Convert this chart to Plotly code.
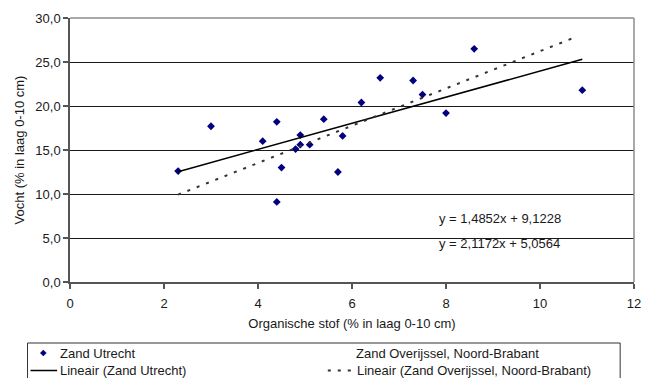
import plotly.graph_objects as go

# Soil samples: organic matter vs. moisture (0-10 cm layer)
organische_stof = [2.3, 3.0, 4.1, 4.4, 4.4, 4.5, 4.8, 4.9, 4.9, 5.1,
                   5.4, 5.7, 5.8, 6.2, 6.6, 7.3, 7.5, 8.0, 8.6, 10.9]
vocht = [12.6, 17.7, 16.0, 18.2, 9.1, 13.0, 15.1, 16.7, 15.6, 15.6,
         18.5, 12.5, 16.6, 20.4, 23.2, 22.9, 21.3, 19.2, 26.5, 21.8]

# Linear trend lines (slope, intercept) and their x extents
trend_utrecht = (1.4852, 9.1228)
trend_utrecht_x = [2.3, 10.9]
trend_overijssel = (2.1172, 5.0564)
trend_overijssel_x = [2.3, 10.8]

x_ticks = [0, 2, 4, 6, 8, 10, 12]
y_ticks = [0, 5, 10, 15, 20, 25, 30]

FONT = "Liberation Sans, Arial, sans-serif"
TXT = "#1a1a1a"
W, H = 649, 378
PL, PR, PT, PB = 70, 641, 18, 282


def fx(px):
    return (px - PL) / (PR - PL)


def fy(py):
    return (PB - py) / (PB - PT)


def line_y(coef, xs):
    a, b = coef
    return [a * x + b for x in xs]


def eq_text(coef):
    a, b = coef
    return "y = %sx + %s" % (f"{a:.4f}".replace(".", ","), f"{b:.4f}".replace(".", ","))


fig = go.Figure()

fig.add_trace(go.Scatter(
    x=organische_stof, y=vocht, mode="markers", name="Zand Utrecht",
    marker=dict(symbol="diamond", size=6, color="#000080"),
    showlegend=False, cliponaxis=False))

fig.add_trace(go.Scatter(
    x=trend_utrecht_x, y=line_y(trend_utrecht, trend_utrecht_x), mode="lines",
    name="Lineair (Zand Utrecht)", line=dict(color="#000000", width=1.5),
    showlegend=False))

fig.add_trace(go.Scatter(
    x=trend_overijssel_x, y=line_y(trend_overijssel, trend_overijssel_x), mode="lines",
    name="Lineair (Zand Overijssel, Noord-Brabant)",
    line=dict(color="#333333", width=2, dash="3px,7px"),
    showlegend=False))

annotations = []
for coef, py in [(trend_utrecht, 218), (trend_overijssel, 243)]:
    annotations.append(dict(
        x=fx(505), y=fy(py), xref="paper", yref="paper", text=eq_text(coef),
        showarrow=False, xanchor="center", yanchor="middle",
        font=dict(family=FONT, size=13, color=TXT)))

ROW1, ROW2 = 353, 370.5

# Legend panel below the chart
shapes = [
    dict(type="rect", xref="paper", yref="paper", x0=fx(27), x1=fx(627),
         y0=fy(343), y1=fy(400), line=dict(color="#333333", width=1),
         fillcolor="rgba(0,0,0,0)"),
    dict(type="path", xref="paper", yref="paper", xsizemode="pixel", ysizemode="pixel",
         xanchor=fx(43), yanchor=fy(ROW1), path="M -3 0 L 0 3 L 3 0 L 0 -3 Z",
         fillcolor="#000080", line=dict(color="#000080", width=0.5)),
    dict(type="line", xref="paper", yref="paper", x0=fx(30), x1=fx(57),
         y0=fy(ROW2), y1=fy(ROW2), line=dict(color="#000000", width=1.5)),
    dict(type="line", xref="paper", yref="paper", x0=fx(331), x1=fx(358),
         y0=fy(ROW2), y1=fy(ROW2), line=dict(color="#333333", width=2, dash="3px,7px")),
]
legend_items = [
    ("Zand Utrecht", 59, ROW1),
    ("Lineair (Zand Utrecht)", 59, ROW2),
    ("Zand Overijssel, Noord-Brabant", 359, ROW1),
    ("Lineair (Zand Overijssel, Noord-Brabant)", 360, ROW2),
]
for text, px, py in legend_items:
    annotations.append(dict(
        x=fx(px), y=fy(py), xref="paper", yref="paper", text=text, showarrow=False,
        xanchor="left", yanchor="middle", borderpad=0,
        font=dict(family=FONT, size=13, color=TXT)))

fig.update_layout(
    width=W, height=H,
    margin=dict(l=PL, r=W - PR, t=PT, b=H - PB, pad=0),
    paper_bgcolor="white", plot_bgcolor="white",
    separators=", ",
    font=dict(family=FONT, size=13, color=TXT),
    showlegend=False,
    shapes=shapes, annotations=annotations,
    xaxis=dict(
        range=[0, 12], tickvals=x_ticks, ticktext=[str(v) for v in x_ticks],
        showgrid=False, zeroline=False, showline=True, linecolor="#555555", linewidth=1.5,
        mirror=False, ticks="outside", ticklen=5, tickcolor="#555555", tickwidth=1.5,
        ticklabelstandoff=4,
        title=dict(text="Organische stof (% in laag 0-10 cm)", standoff=9,
                   font=dict(family=FONT, size=13, color=TXT)),
    ),
    yaxis=dict(
        range=[0, 30], tickvals=y_ticks, tickformat=".1f",
        showgrid=True, gridcolor="#1a1a1a", gridwidth=1, zeroline=False,
        showline=True, linecolor="#555555", linewidth=1.5,
        ticks="outside", ticklen=5, tickcolor="#555555", tickwidth=1.5,
        title=dict(text="Vocht (% in laag 0-10 cm)", standoff=8,
                   font=dict(family=FONT, size=13, color=TXT)),
    ),
)

# thin grey frame on the top and right edges of the plot area
fig.add_shape(type="line", xref="paper", yref="paper", x0=0, x1=1, y0=1, y1=1,
              line=dict(color="#8c8c8c", width=1.5))
fig.add_shape(type="line", xref="paper", yref="paper", x0=1, x1=1, y0=0, y1=1,
              line=dict(color="#8c8c8c", width=1.5))

fig.write_html("out.html")
